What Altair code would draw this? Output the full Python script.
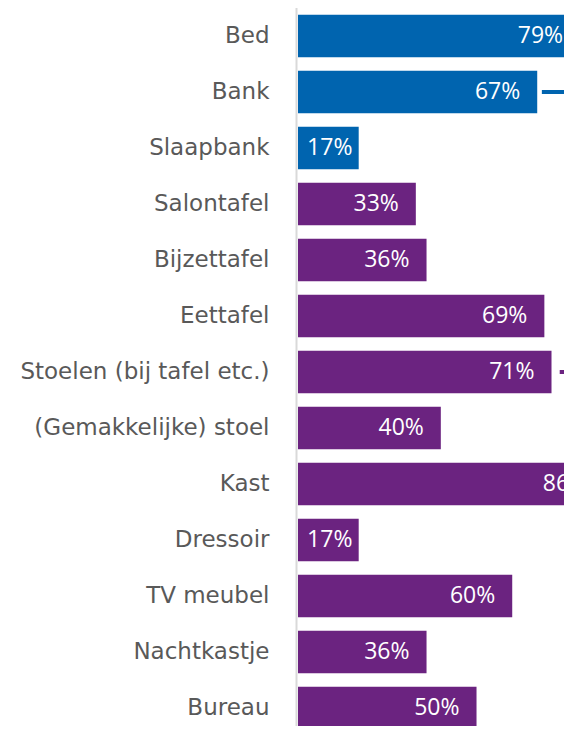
import altair as alt
import pandas as pd

categories = ["Bed", "Bank", "Slaapbank", "Salontafel", "Bijzettafel", "Eettafel",
              "Stoelen (bij tafel etc.)", "(Gemakkelijke) stoel", "Kast", "Dressoir",
              "TV meubel", "Nachtkastje", "Bureau"]
values = [79, 67, 17, 33, 36, 69, 71, 40, 86, 17, 60, 36, 50]
groups = ["slapen"] * 3 + ["overig"] * 10

bracket_rows = ["Bank", "Stoelen (bij tafel etc.)"]
bracket_start = [68.3, 73.3]
bracket_end = [80, 80]
bracket_group = ["slapen", "overig"]

AXIS_FONT = "DejaVu Sans"
BAR_FONT = "Open Sans"
BLUE = "#0064AF"
PURPLE = "#6B2380"

df = pd.DataFrame({"cat": categories, "value": values, "group": groups})
br = pd.DataFrame({"cat": bracket_rows, "x": bracket_start, "x2": bracket_end,
                   "group": bracket_group})
zero = pd.DataFrame({"x": [0]})

xscale = alt.Scale(domain=[0, 74.5], nice=False, zero=True)
yscale = alt.Scale(range=[0, 728], paddingInner=0.245, paddingOuter=0.1225)
color = alt.Color("group:N", scale=alt.Scale(domain=["slapen", "overig"],
                                             range=[BLUE, PURPLE]), legend=None)

y = alt.Y("cat:N", sort=categories, scale=yscale, title=None,
          axis=alt.Axis(ticks=False, domain=False, grid=False, labelPadding=29,
                        labelFont=AXIS_FONT, labelFontSize=23, labelColor="#595959",
                        labelLimit=400))

base = alt.Chart(df)

axisline = alt.Chart(zero).mark_rule(color="#d9d9d9", strokeWidth=2, xOffset=-1.5).encode(
    x=alt.X("x:Q", scale=xscale, axis=None)
)

bars = base.mark_bar().encode(
    x=alt.X("value:Q", scale=xscale, axis=None),
    y=y,
    color=color,
)

labels = base.transform_calculate(
    pos="max(datum.value, 20)",
    label="datum.value + '%'",
).mark_text(align="right", baseline="middle", dx=-17, color="white",
            font=BAR_FONT, fontSize=23).encode(
    x=alt.X("pos:Q", scale=xscale, axis=None),
    y=y,
    text=alt.Text("label:N"),
)

brackets = alt.Chart(br).mark_rule(strokeWidth=4).encode(
    x=alt.X("x:Q", scale=xscale, axis=None),
    x2="x2:Q",
    y=y,
    color=color,
)

chart = alt.layer(axisline, bars, labels, brackets).properties(
    width=266, height=718,
    autosize=alt.AutoSizeParams(type="none"),
    padding={"left": 290, "top": 0, "right": 0, "bottom": 0},
).configure_view(stroke=None)

chart.save("out.html", embed_options={"renderer": "svg", "actions": False})
